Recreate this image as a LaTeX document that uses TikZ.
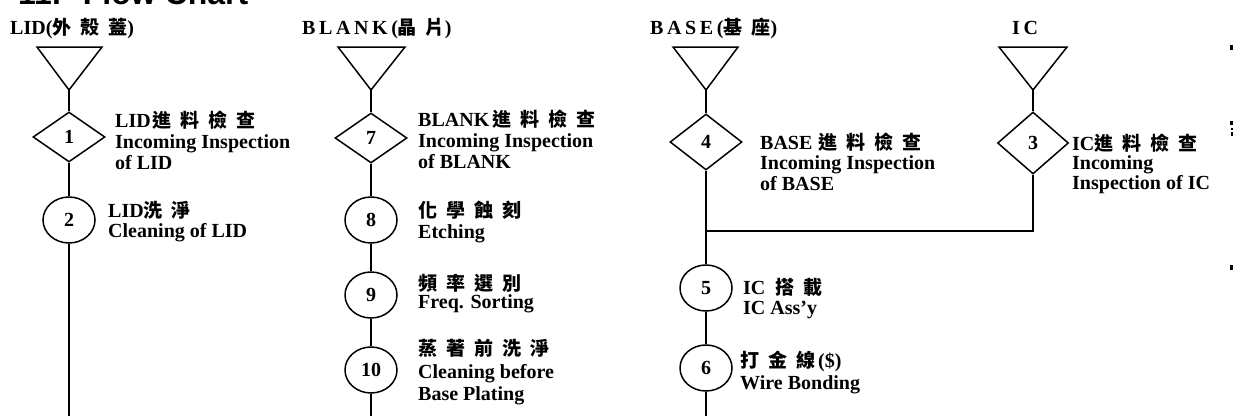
\documentclass[tikz,border=0pt]{standalone}
\usepackage{fontspec}
\setmainfont{Liberation Serif}
\newfontfamily\cjk{Noto Sans CJK TC}
\newfontfamily\hdfont{Liberation Serif}[LetterSpace=18]
\newfontfamily\titlefont{Liberation Sans}
\usetikzlibrary{shapes.geometric}
\newcommand\zh[1]{{\cjk\fontsize{19}{22}\selectfont\bfseries #1}}
\newcommand\xg{\hspace{9pt}}
\begin{document}
\begin{tikzpicture}[x=1pt,y=-1pt,
  shp/.style={draw=black,line width=1.5pt},
  conn/.style={draw=black,line width=2.8pt},
  dia/.style={shp,diamond,inner sep=0pt,minimum width=72pt,minimum height=50pt,font=\fontsize{20}{22}\selectfont\bfseries},
  ell/.style={shp,ellipse,inner sep=0pt,minimum width=52pt,minimum height=46pt,font=\fontsize{20}{22}\selectfont\bfseries},
  txt/.style={anchor=base west,inner sep=0pt,font=\fontsize{20}{22}\selectfont\bfseries},
  hdr/.style={anchor=base west,inner sep=0pt,font=\hdfont\fontsize{20}{22}\selectfont\bfseries},
  tick/.style={fill=black,draw=none}]
\useasboundingbox (0,0) rectangle (1233,415);
\fill[white] (0,0) rectangle (1233,415);

% title (cut off by the top edge)
\node[anchor=base west,inner sep=0pt,font=\titlefont\fontsize{32}{34}\selectfont\bfseries] (title) at (18,5) {11.\hspace{22pt}Flow Chart};

% headers
\node[hdr,font=\fontsize{20}{22}\selectfont\bfseries] (hLID) at (10,34) {LID(\zh{外}\xg\zh{殼}\xg\zh{蓋})};
\node[hdr] (hBLANK) at (302,34) {BLANK(\zh{晶}\xg\zh{片})};
\node[hdr] (hBASE) at (650,34) {BASE(\zh{基}\xg\zh{座})};
\node[hdr] (hIC) at (1012,34) {IC};

% triangles
\draw[shp] (37,47) -- (102,47) -- (69,90) -- cycle;
\coordinate (t1) at (69,90);
\draw[shp] (338,47) -- (405,47) -- (371,90) -- cycle;
\coordinate (t2) at (371,90);
\draw[shp] (673,47) -- (738,47) -- (706,90) -- cycle;
\coordinate (t3) at (706,90);
\draw[shp] (999,47) -- (1067,47) -- (1033,90) -- cycle;
\coordinate (t4) at (1033,90);

% LID column
\node[dia] (d1) at (69,137) {1};
\node[ell] (c2) at (69,220) {2};
\coordinate (e1) at (69,418);
\node[txt] (l1a) at (115,127) {LID\hspace{2pt}\zh{進}\xg\zh{料}\xg\zh{檢}\xg\zh{查}};
\node[txt] (l1b) at (115,148) {Incoming Inspection};
\node[txt] (l1c) at (115,169) {of LID};
\node[txt] (l2a) at (108,217) {LID\zh{洗}\xg\zh{淨}};
\node[txt] (l2b) at (108,237) {Cleaning of LID};

% BLANK column
\node[dia] (d7) at (371,138) {7};
\node[ell] (c8) at (371,220) {8};
\node[ell] (c9) at (371,295) {9};
\node[ell] (c10) at (371,370) {10};
\coordinate (e2) at (371,418);
\node[txt] (l7a) at (418,126) {BLANK\hspace{3pt}\zh{進}\xg\zh{料}\xg\zh{檢}\xg\zh{查}};
\node[txt] (l7b) at (418,147) {Incoming Inspection};
\node[txt] (l7c) at (418,168) {of BLANK};
\node[txt] (l8a) at (418,217) {\zh{化}\xg\zh{學}\xg\zh{蝕}\xg\zh{刻}};
\node[txt] (l8b) at (418,238) {Etching};
\node[txt] (l9a) at (418,290) {\zh{頻}\xg\zh{率}\xg\zh{選}\xg\zh{別}};
\node[txt] (l9b) at (418,308) {Freq. Sorting};
\node[txt] (l10a) at (418,355) {\zh{蒸}\xg\zh{著}\xg\zh{前}\xg\zh{洗}\xg\zh{淨}};
\node[txt] (l10b) at (418,378) {Cleaning before};
\node[txt] (l10c) at (418,400) {Base Plating};

% BASE column
\node[dia,minimum height=56pt] (d4) at (706,142) {4};
\coordinate (j) at (706,231);
\node[ell] (c5) at (706,288) {5};
\node[ell] (c6) at (706,368) {6};
\coordinate (e3) at (706,418);
\node[txt] (l4a) at (760,149) {BASE\hspace{6pt}\zh{進}\xg\zh{料}\xg\zh{檢}\xg\zh{查}};
\node[txt] (l4b) at (760,169) {Incoming Inspection};
\node[txt] (l4c) at (760,190) {of BASE};
\node[txt] (l5a) at (743,294) {IC\hspace{10pt}\zh{搭}\xg\zh{載}};
\node[txt] (l5b) at (743,314) {IC Ass'y};
\node[txt] (l6a) at (740,367) {\zh{打}\xg\zh{金}\xg\zh{線}\hspace{3pt}(\$)};
\node[txt] (l6b) at (740,389) {Wire Bonding};

% IC column
\node[dia,minimum width=71pt,minimum height=62pt] (d3) at (1033,143) {3};
\coordinate (k) at (1033,231);
\node[txt] (l3a) at (1072,150) {IC\zh{進}\xg\zh{料}\xg\zh{檢}\xg\zh{查}};
\node[txt] (l3b) at (1072,169) {Incoming};
\node[txt] (l3c) at (1072,189) {Inspection of IC};

% connectors
\draw[conn] (t1) -- (d1.north);
\draw[conn] (d1.south) -- (c2.north);
\draw[conn] (c2.south) -- (e1);
\draw[conn] (t2) -- (d7.north);
\draw[conn] (d7.south) -- (c8.north);
\draw[conn] (c8.south) -- (c9.north);
\draw[conn] (c9.south) -- (c10.north);
\draw[conn] (c10.south) -- (e2);
\draw[conn] (t3) -- (d4.north);
\draw[conn] (d4.south) -- (c5.north);
\draw[conn] (c5.south) -- (c6.north);
\draw[conn] (c6.south) -- (e3);
\draw[conn] (t4) -- (d3.north);
\draw[conn,line join=miter] (d3.south) -- (k) -- (j);

% slivers at the right edge
\fill[tick] (1230,45) rectangle (1233,50);
\fill[tick] (1230,121) rectangle (1233,125);
\fill[tick] (1231,128) rectangle (1233,130);
\fill[tick] (1231,132) rectangle (1233,136);
\fill[tick] (1230,265) rectangle (1233,270);
\end{tikzpicture}
\end{document}
